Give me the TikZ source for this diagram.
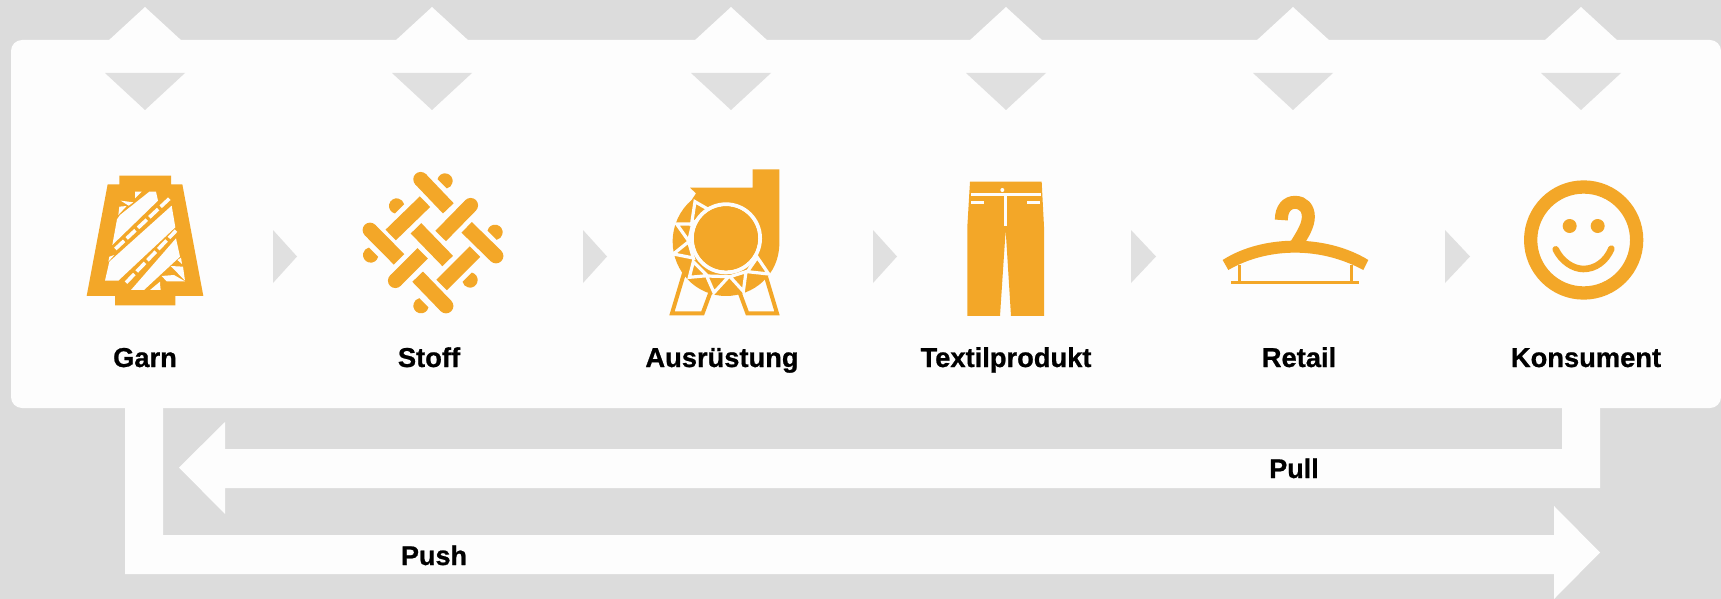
\documentclass[tikz,border=0pt]{standalone}
\usepackage{fontspec}
\setmainfont[BoldFeatures={FakeBold=0.8}]{Liberation Sans}
\definecolor{bgc}{HTML}{DCDCDC}
\definecolor{panelc}{HTML}{FDFDFD}
\definecolor{orangec}{HTML}{F3A728}
\definecolor{trc}{HTML}{E0E0E0}
\tikzset{
  lbl/.style={anchor=base,font=\bfseries\fontsize{27.3}{30}\selectfont,text=black,inner sep=0pt},
  sublbl/.style={anchor=base,font=\bfseries\fontsize{27}{30}\selectfont,text=black,inner sep=0pt},
  wf/.style={fill=panelc,draw=none},
  tf/.style={fill=trc,draw=none},
  ofill/.style={fill=orangec,draw=none},
  zoomed/.style={scale=0.33333},
  bar/.style={draw=orangec,line width=14.8pt}
}
\newcommand{\mytopmark}[1]{%
  \fill[wf] (#1-37,41) -- (#1,7) -- (#1+37,41) -- cycle;
  \fill[tf] (#1-40,73) -- (#1+40,73) -- (#1,110) -- cycle;}
\newcommand{\mysidemark}[2]{\fill[tf] (#1,230) -- (#2,256.5) -- (#1,283) -- cycle;}
\newcommand{\myrbar}[2]{\draw[bar] #1 -- #2; \fill[orangec] #1 circle (22.2);}
\begin{document}
\begin{tikzpicture}[x=1pt,y=-1pt]
\useasboundingbox (0,0) rectangle (1721,599);
\fill[bgc] (0,0) rectangle (1721,599);
% panel
\fill[wf,rounded corners=11pt] (11,40) rectangle (1721,408);
% top marks
\mytopmark{145}\mytopmark{432}\mytopmark{731}\mytopmark{1006}\mytopmark{1293}\mytopmark{1581}
% side marks
\mysidemark{273}{297}\mysidemark{583}{607}\mysidemark{873}{897}\mysidemark{1131}{1156}\mysidemark{1445}{1470}
% pull arrow
\fill[wf] (1562,405) -- (1600,405) -- (1600,488) -- (225,488) -- (225,514) -- (179,467.5) -- (225,422) -- (225,449) -- (1562,449) -- cycle;
% push arrow
\fill[wf] (125,405) -- (163,405) -- (163,535) -- (1554,535) -- (1554,506) -- (1600,552.5) -- (1554,599) -- (1554,574) -- (125,574) -- cycle;
% Garn icon
\begin{scope}[shift={(70,160)},zoomed]
\fill[ofill] (148,47) -- (303,47) -- (303,73) -- (337,73) -- (400,408) -- (316,408) -- (316,436) -- (135,436) -- (135,408) -- (50,408) -- (113,73) -- (148,73) -- cycle;
\fill[wf] (238,95) -- (258,95) -- (264,122) -- (127,255) -- (141,178) -- (150,165) -- cycle;
\fill[wf] (305,137) -- (316,202) -- (145,362) -- (105,362) -- (118,305) -- cycle;
\fill[wf] (318,235) -- (330,290) -- (222,390) -- (183,390) -- cycle;
\fill[wf] (195,95) -- (215,95) -- (195,115) -- cycle;
\fill[wf] (152,122) -- (190,127) -- (176,137) -- cycle;
\fill[wf] (148,140) -- (170,138) -- (145,165) -- cycle;
\fill[wf] (118,290) -- (133,285) -- (115,305) -- cycle;
\fill[wf] (322,300) -- (333,293) -- (336,312) -- cycle;
\fill[wf] (302,318) -- (339,320) -- (345,362) -- cycle;
\fill[wf] (275,348) -- (312,345) -- (345,364) -- (290,364) -- cycle;
\fill[wf] (270,372) -- (272,390) -- (240,390) -- (270,365) -- cycle;
\draw[panelc,line width=3.6pt,dash pattern=on 12pt off 3.5pt] (136,267) -- (298,116);
\draw[panelc,line width=3.6pt,dash pattern=on 12pt off 3.5pt] (168,368) -- (318,212);
\end{scope}
% Stoff icon
\begin{scope}[shift={(350,160)},zoomed]
\myrbar{(212,58)}{(295,145)}
\myrbar{(60,210)}{(147,298)}
\draw[bar] (198,205) -- (293,303);
\myrbar{(438,288)}{(350,202)}
\myrbar{(288,438)}{(203,350)}
\draw[bar] (225,125) -- (122,225);
\myrbar{(362,136)}{(272,228)}
\myrbar{(136,362)}{(218,280)}
\draw[bar] (375,275) -- (275,375);
\foreach \cx/\cy/\ang in {285/63/-45,140/138/-135,435/217/-45,62/285/135,360/360/45,213/437/135}{
  \fill[orangec] (\cx,\cy) ++(\ang-122:23) arc[start angle=\ang-122,delta angle=244,radius=23] -- cycle;}
\end{scope}
% Ausruestung icon
\begin{scope}[shift={(650,160)},zoomed]
\draw[orangec,line width=4pt,fill=panelc] (102,340) -- (66,460) -- (158,460) -- (195,360) -- cycle;
\draw[orangec,line width=4pt,fill=panelc] (345,340) -- (381,460) -- (292,460) -- (255,360) -- cycle;
\fill[ofill] (120,83) -- (308,83) -- (308,28) -- (388,28) -- (388,250) .. controls (388,345) and (310,408) .. (228,408) .. controls (140,408) and (68,335) .. (68,245) .. controls (68,195) and (90,150) .. (125,120) -- (138,100) -- cycle;
\draw[panelc,line width=3.2pt,fill=orangec,line join=miter]
  (135,125) -- (187,155) -- (125,190) -- cycle
  (80,192) -- (128,192) -- (116,243) -- cycle
  (70,282) -- (116,245) -- (130,294) -- cycle
  (118,352) -- (130,305) -- (172,347) -- cycle
  (192,398) -- (170,348) -- (236,350) -- cycle
  (280,394) -- (240,350) -- (288,335) -- cycle
  (356,342) -- (322,292) -- (292,335) -- cycle;
\draw[panelc,line width=4pt,fill=orangec] (228,235) circle (102);
\fill[ofill] (228,235) circle (96);
\end{scope}
% Textilprodukt icon
\begin{scope}[shift={(600,150)},zoomed]
\fill[ofill] (1110,95) -- (1325,95) -- (1332,230) -- (1332,498) -- (1233,498) -- (1217,240) -- (1200,498) -- (1102,498) -- (1102,230) -- cycle;
\fill[wf] (1113,129) rectangle (1322,138);
\fill[wf] (1212,133) rectangle (1222,228);
\fill[wf] (1113,154) rectangle (1152,162);
\fill[wf] (1280,154) rectangle (1320,162);
\fill[wf] (1207,120) circle (6);
\end{scope}
% Retail icon
\begin{scope}[shift={(1200,170)},zoomed]
\fill[ofill] (68,270) .. controls (130,230) and (210,212) .. (285,212) .. controls (360,212) and (440,230) .. (505,270) -- (490,300) .. controls (425,265) and (355,248) .. (285,248) .. controls (215,248) and (145,265) .. (85,300) -- cycle;
\draw[orangec,line width=13pt] (244,150) .. controls (244,115) and (262,97) .. (285,97) .. controls (310,97) and (325,115) .. (325,140) .. controls (325,165) and (310,190) .. (290,222);
\draw[orangec,line width=3pt] (118,285) -- (118,338) (455,285) -- (455,338);
\fill[ofill] (92,332) rectangle (477,343);
\end{scope}
% Konsument icon
\begin{scope}[shift={(1500,170)},zoomed]
\draw[orangec,line width=13.3pt] (251,210) circle (159);
\fill[ofill] (209,168) circle (21) (293,168) circle (21);
\draw[orangec,line width=6.6pt,line cap=round] (167,238) .. controls (185,275) and (220,297) .. (250,297) .. controls (285,297) and (318,275) .. (334,236);
\end{scope}
% labels
\node[lbl] (garn) at (145,367) {Garn};
\node[lbl] (stoff) at (429,367) {Stoff};
\node[lbl] (ausr) at (722,367) {Ausrüstung};
\node[lbl] (textil) at (1006,367) {Textilprodukt};
\node[lbl] (retail) at (1299,367) {Retail};
\node[lbl] (kons) at (1586,367) {Konsument};
\node[sublbl] (pull) at (1294,478) {Pull};
\node[sublbl] (push) at (434,565) {Push};
\end{tikzpicture}
\end{document}
